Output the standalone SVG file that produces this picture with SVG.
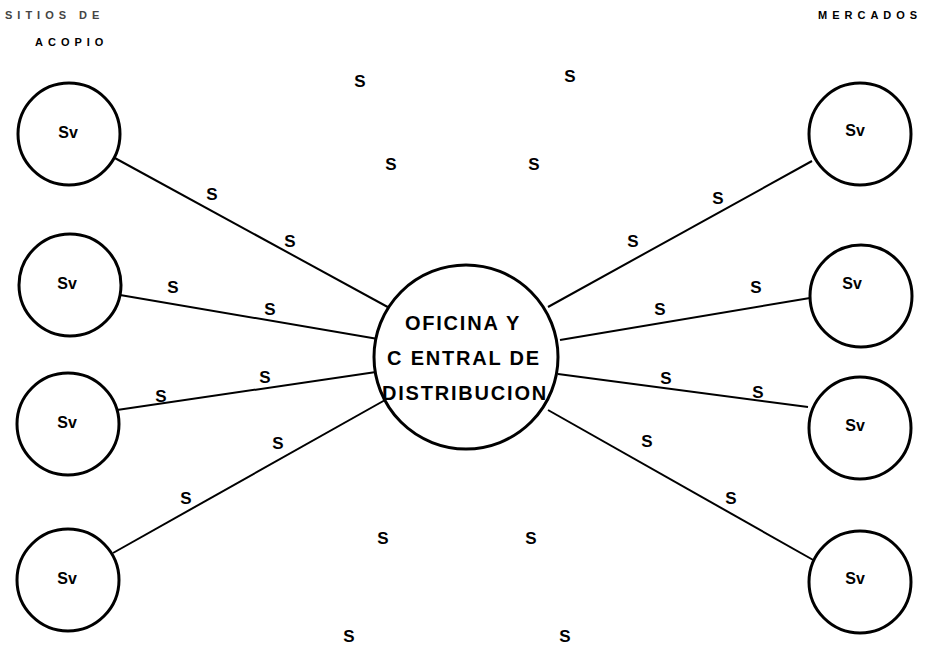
<svg xmlns="http://www.w3.org/2000/svg" width="934" height="653" viewBox="0 0 934 653">
<style>
.n{fill:#fff;stroke:#000;stroke-width:3}
.c{stroke:#000;stroke-width:2;fill:none}
.sv{font-family:"Liberation Sans",Arial,sans-serif;font-size:16px;font-weight:bold;text-anchor:middle}
.s{font-family:"Liberation Sans",Arial,sans-serif;font-size:17px;font-weight:bold;text-anchor:middle}
.h{font-family:"Liberation Sans",Arial,sans-serif;font-size:11px;font-weight:bold;letter-spacing:5px}
.m{font-family:"Liberation Sans",Arial,sans-serif;font-size:20px;font-weight:bold;letter-spacing:1.8px;text-anchor:middle}
</style>
<rect width="934" height="653" fill="#fff"/>
<g id="headers">
<text class="h" x="5" y="19" fill="#444">SITIOS DE</text>
<text class="h" x="35" y="46">ACOPIO</text>
<text class="h" x="818" y="19">MERCADOS</text>
</g>
<g id="connectors">
<line class="c" x1="113" y1="157" x2="395" y2="311"/>
<line class="c" x1="120" y1="295" x2="378" y2="339"/>
<line class="c" x1="117" y1="410" x2="376" y2="372"/>
<line class="c" x1="113" y1="553" x2="394" y2="395"/>
<line class="c" x1="548" y1="307" x2="812" y2="161"/>
<line class="c" x1="560" y1="340" x2="810" y2="298"/>
<line class="c" x1="558" y1="374" x2="808" y2="407"/>
<line class="c" x1="548" y1="410" x2="815" y2="561"/>
</g>
<g id="labels">
<text class="s" x="360" y="87">S</text>
<text class="s" x="570" y="82">S</text>
<text class="s" x="391" y="170">S</text>
<text class="s" x="534" y="170">S</text>
<text class="s" x="212" y="200">S</text>
<text class="s" x="290" y="247">S</text>
<text class="s" x="173" y="293">S</text>
<text class="s" x="270" y="315">S</text>
<text class="s" x="265" y="383">S</text>
<text class="s" x="161" y="402">S</text>
<text class="s" x="278" y="449">S</text>
<text class="s" x="186" y="504">S</text>
<text class="s" x="383" y="544">S</text>
<text class="s" x="531" y="544">S</text>
<text class="s" x="349" y="642">S</text>
<text class="s" x="565" y="642">S</text>
<text class="s" x="718" y="204">S</text>
<text class="s" x="633" y="247">S</text>
<text class="s" x="756" y="293">S</text>
<text class="s" x="660" y="315">S</text>
<text class="s" x="666" y="384">S</text>
<text class="s" x="758" y="398">S</text>
<text class="s" x="647" y="447">S</text>
<text class="s" x="731" y="504">S</text>
</g>
<g id="center">
<circle class="n" cx="466" cy="357" r="92"/>
<text class="m" x="463" y="330">OFICINA Y</text>
<text class="m" x="464" y="365">C ENTRAL DE</text>
<text class="m" x="465" y="400">DISTRIBUCION</text>
</g>
<g id="left1"><circle class="n" cx="69" cy="134" r="51"/><text class="sv" x="68" y="138">Sv</text></g>
<g id="left2"><circle class="n" cx="70" cy="285" r="51"/><text class="sv" x="67" y="289">Sv</text></g>
<g id="left3"><circle class="n" cx="68" cy="424" r="51"/><text class="sv" x="67" y="428">Sv</text></g>
<g id="left4"><circle class="n" cx="68" cy="580" r="51"/><text class="sv" x="67" y="584">Sv</text></g>
<g id="right1"><circle class="n" cx="860" cy="134" r="51"/><text class="sv" x="855" y="136">Sv</text></g>
<g id="right2"><circle class="n" cx="861" cy="296" r="51"/><text class="sv" x="852" y="289">Sv</text></g>
<g id="right3"><circle class="n" cx="860" cy="428" r="51"/><text class="sv" x="855" y="431">Sv</text></g>
<g id="right4"><circle class="n" cx="860" cy="582" r="51"/><text class="sv" x="855" y="584">Sv</text></g>
</svg>
